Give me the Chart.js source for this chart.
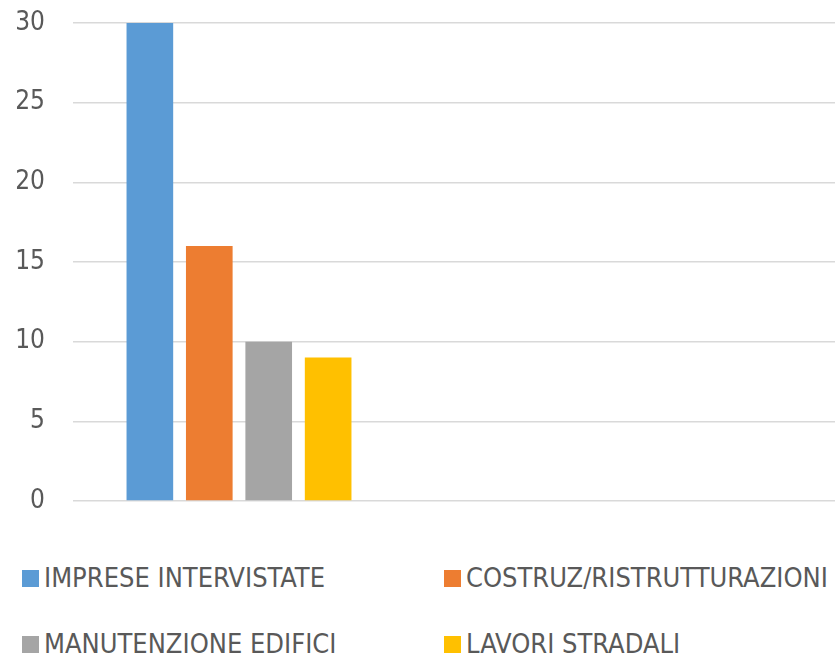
<!DOCTYPE html>
<html>
<head>
<meta charset="utf-8">
<script src="https://cdn.jsdelivr.net/npm/chart.js@4/dist/chart.umd.min.js"></script>
<style>
  html,body{margin:0;padding:0;background:#fff;overflow:hidden;width:835px;height:655px;}
  #wrap{position:absolute;left:0;top:0;width:1069px;height:530px;}
  #legend{position:absolute;left:22px;top:562px;width:900px;
    font-family:'Liberation Sans Narrow','DejaVu Sans Condensed',sans-serif;font-size:27px;color:#595959;}
  .row{display:flex;height:66px;align-items:flex-start;}
  .item{display:flex;align-items:flex-end;flex:none;}
  .item:first-child{width:422px;}
  .sw{width:17px;height:17px;margin-right:5px;margin-bottom:6px;flex:none;}
</style>
</head>
<body>
<div id="wrap"><canvas id="c"></canvas></div>
<div id="legend"></div>
<script>
// one group of bars; the other category slots are the empty part of the plot
const categories=['','',''];
const series=['IMPRESE INTERVISTATE','COSTRUZ/RISTRUTTURAZIONI','MANUTENZIONE EDIFICI','LAVORI STRADALI'];
const values=[30,16,10,9];
const colors=['#5B9BD5','#ED7D31','#A5A5A5','#FFC000'];
const yTicks=[0,5,10,15,20,25,30];

const datasets=series.map((name,i)=>({
  label:name,
  data:categories.map((c,j)=>j===0?values[i]:null),
  backgroundColor:colors[i],
  barPercentage:0.785,
  categoryPercentage:0.716
}));

const fontFam="'Liberation Sans Narrow','DejaVu Sans Condensed',sans-serif";
new Chart(document.getElementById('c').getContext('2d'),{
  type:'bar',
  data:{labels:categories,datasets:datasets},
  options:{
    responsive:true,maintainAspectRatio:false,animation:false,
    layout:{padding:{top:23,bottom:29,left:0,right:0}},
    plugins:{legend:{display:false},tooltip:{enabled:false}},
    scales:{
      x:{display:false},
      y:{
        min:0,max:30,
        afterBuildTicks(s){ s.ticks=yTicks.map(v=>({value:v})); },
        // fixed axis width; tick padding should not push the plot down
        afterFit(s){ s.width=73; s.paddingTop=0; s.paddingBottom=0; },
        border:{display:false},
        grid:{color:'#d9d9d9',lineWidth:1.5,drawTicks:false},
        ticks:{padding:28,color:'#595959',font:{family:fontFam,size:26}}
      }
    }
  }
});

// legend, two items per row
const lg=document.getElementById('legend');
for(let r=0;r<series.length;r+=2){
  const row=document.createElement('div'); row.className='row';
  for(let k=r;k<Math.min(r+2,series.length);k++){
    const it=document.createElement('div'); it.className='item';
    const sw=document.createElement('span'); sw.className='sw'; sw.style.background=colors[k];
    const tx=document.createElement('span'); tx.textContent=series[k];
    it.appendChild(sw); it.appendChild(tx); row.appendChild(it);
  }
  lg.appendChild(row);
}
</script>
</body>
</html>
